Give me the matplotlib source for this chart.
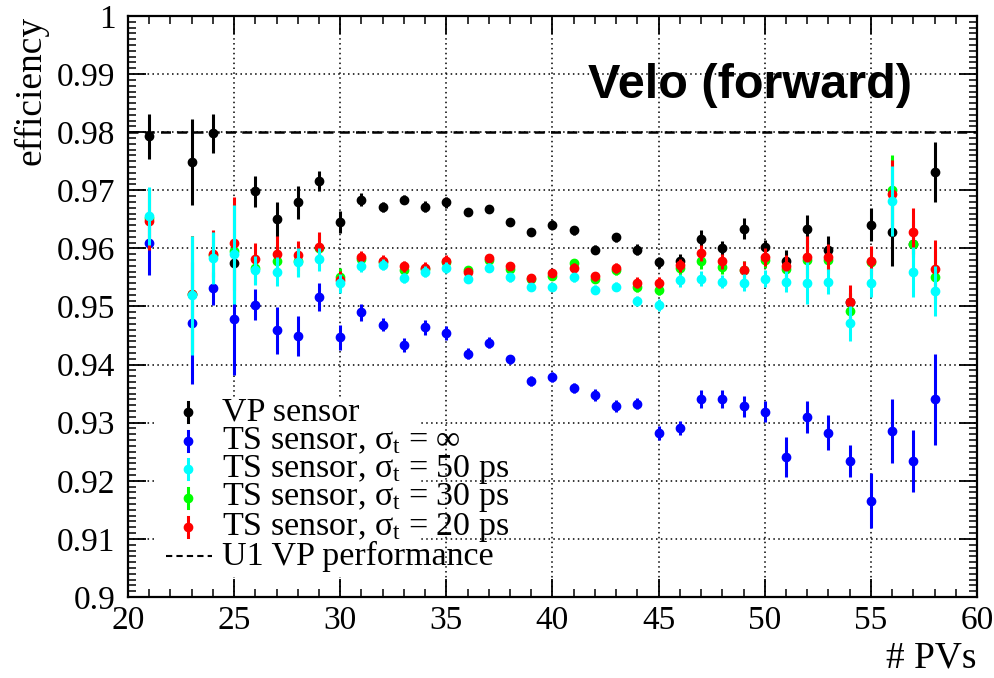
import matplotlib
matplotlib.use("Agg")
import matplotlib.pyplot as plt
from matplotlib.patches import Rectangle
from matplotlib.ticker import MultipleLocator, FormatStrFormatter

plt.rcParams['font.family'] = ['Liberation Serif', 'DejaVu Serif']
plt.rcParams['mathtext.fontset'] = 'custom'
plt.rcParams['mathtext.rm'] = 'Liberation Serif'
plt.rcParams['mathtext.it'] = 'Liberation Serif'
plt.rcParams['mathtext.fallback'] = 'stix'

n_pvs = [21, 23, 24, 25, 26, 27, 28, 29, 30, 31, 32, 33, 34, 35, 36, 37, 38, 39, 40,
         41, 42, 43, 44, 45, 46, 47, 48, 49, 50, 51, 52, 53, 54, 55, 56, 57, 58]

vp = [0.9793, 0.9748, 0.9798, 0.9574, 0.9698, 0.9650, 0.9679, 0.9716, 0.9645, 0.9684,
      0.9671, 0.9684, 0.9672, 0.9679, 0.9662, 0.9667, 0.9645, 0.9628, 0.9641, 0.9631,
      0.9598, 0.9619, 0.9598, 0.9576, 0.9579, 0.9617, 0.9600, 0.9634, 0.9602, 0.9579,
      0.9633, 0.9597, 0.9508, 0.9641, 0.9629, 0.9607, 0.9731]
vp_err = [0.0039, 0.0074, 0.0034, 0.0008, 0.0026, 0.0030, 0.0028, 0.0017, 0.0019, 0.0011,
          0.0009, 0.0008, 0.0009, 0.0009, 0.0006, 0.0006, 0.0007, 0.0007, 0.0008, 0.0008,
          0.0008, 0.0008, 0.0009, 0.0010, 0.0012, 0.0015, 0.0012, 0.0018, 0.0013, 0.0018,
          0.0025, 0.0025, 0.0015, 0.0028, 0.0060, 0.0016, 0.0052]

ts_inf = [0.9609, 0.9472, 0.9531, 0.9478, 0.9503, 0.9459, 0.9449, 0.9516, 0.9447, 0.9490,
          0.9469, 0.9434, 0.9464, 0.9455, 0.9419, 0.9438, 0.9409, 0.9372, 0.9379, 0.9360,
          0.9348, 0.9329, 0.9333, 0.9283, 0.9291, 0.9341, 0.9341, 0.9328, 0.9319, 0.9241,
          0.9310, 0.9283, 0.9234, 0.9166, 0.9286, 0.9234, 0.9340]
ts_inf_err = [0.0055, 0.0105, 0.0028, 0.0096, 0.0027, 0.0040, 0.0035, 0.0024, 0.0022, 0.0015,
              0.0012, 0.0012, 0.0013, 0.0012, 0.0009, 0.0009, 0.0008, 0.0008, 0.0009, 0.0009,
              0.0010, 0.0010, 0.0010, 0.0012, 0.0012, 0.0015, 0.0015, 0.0018, 0.0018, 0.0034,
              0.0027, 0.0030, 0.0028, 0.0047, 0.0055, 0.0054, 0.0078]

ts_50 = [0.9655, 0.9519, 0.9584, 0.9590, 0.9562, 0.9560, 0.9576, 0.9581, 0.9540, 0.9569,
         0.9572, 0.9549, 0.9560, 0.9567, 0.9547, 0.9567, 0.9550, 0.9533, 0.9534, 0.9550,
         0.9529, 0.9534, 0.9509, 0.9503, 0.9545, 0.9548, 0.9543, 0.9541, 0.9548, 0.9543,
         0.9540, 0.9543, 0.9471, 0.9541, 0.9681, 0.9560, 0.9526]
ts_50_err = [0.0050, 0.0102, 0.0045, 0.0085, 0.0025, 0.0025, 0.0025, 0.0020, 0.0016, 0.0010,
             0.0009, 0.0009, 0.0009, 0.0009, 0.0007, 0.0007, 0.0007, 0.0007, 0.0007, 0.0007,
             0.0008, 0.0008, 0.0009, 0.0010, 0.0011, 0.0013, 0.0012, 0.0015, 0.0014, 0.0018,
             0.0036, 0.0022, 0.0030, 0.0025, 0.0060, 0.0043, 0.0043]

ts_30 = [0.9652, 0.9522, 0.9588, 0.9595, 0.9566, 0.9578, 0.9578, 0.9600, 0.9550, 0.9582,
         0.9577, 0.9563, 0.9565, 0.9577, 0.9562, 0.9580, 0.9565, 0.9547, 0.9553, 0.9574,
         0.9548, 0.9563, 0.9534, 0.9529, 0.9566, 0.9578, 0.9568, 0.9563, 0.9580, 0.9565,
         0.9580, 0.9580, 0.9493, 0.9576, 0.9701, 0.9607, 0.9550]
ts_30_err = [0.0050, 0.0100, 0.0042, 0.0082, 0.0027, 0.0028, 0.0025, 0.0023, 0.0016, 0.0010,
             0.0009, 0.0009, 0.0009, 0.0009, 0.0007, 0.0007, 0.0007, 0.0007, 0.0007, 0.0008,
             0.0008, 0.0008, 0.0009, 0.0010, 0.0011, 0.0014, 0.0012, 0.0016, 0.0014, 0.0019,
             0.0035, 0.0022, 0.0030, 0.0025, 0.0060, 0.0042, 0.0045]

ts_20 = [0.9648, 0.9522, 0.9591, 0.9609, 0.9582, 0.9591, 0.9588, 0.9603, 0.9545, 0.9585,
         0.9579, 0.9569, 0.9567, 0.9579, 0.9559, 0.9583, 0.9569, 0.9549, 0.9557, 0.9566,
         0.9552, 0.9566, 0.9541, 0.9541, 0.9571, 0.9592, 0.9578, 0.9562, 0.9585, 0.9569,
         0.9586, 0.9585, 0.9507, 0.9579, 0.9693, 0.9628, 0.9564]
ts_20_err = [0.0050, 0.0100, 0.0040, 0.0080, 0.0028, 0.0030, 0.0025, 0.0025, 0.0016, 0.0010,
             0.0009, 0.0009, 0.0009, 0.0009, 0.0007, 0.0007, 0.0007, 0.0007, 0.0007, 0.0008,
             0.0008, 0.0008, 0.0009, 0.0010, 0.0011, 0.0014, 0.0013, 0.0016, 0.0015, 0.0020,
             0.0035, 0.0022, 0.0030, 0.0025, 0.0060, 0.0042, 0.0050]

u1_performance = 0.98

series = [
    ("VP sensor", vp, vp_err, "black"),
    (r"TS sensor, $\sigma_{t}$ = $\infty$", ts_inf, ts_inf_err, "#0000ff"),
    (r"TS sensor, $\sigma_{t}$ = 50 ps", ts_50, ts_50_err, "#00ffff"),
    (r"TS sensor, $\sigma_{t}$ = 30 ps", ts_30, ts_30_err, "#00ff00"),
    (r"TS sensor, $\sigma_{t}$ = 20 ps", ts_20, ts_20_err, "#ff0000"),
]
draw_order = [0, 1, 3, 4, 2]

fig = plt.figure(figsize=(9.95, 6.78), dpi=100)
ax = fig.add_axes([0.1286, 0.1195, 0.8533, 0.8569])

ax.set_xlim(20, 60)
ax.set_ylim(0.9, 1.0)

ax.grid(True, which='major', color='black', linestyle=(0, (1, 2.2)), linewidth=1.1)
ax.axhline(u1_performance, color='black', linestyle=(0, (4, 2.5)), linewidth=1.8, zorder=2)

for i in draw_order:
    label, vals, errs, col = series[i]
    ax.errorbar(n_pvs, vals, yerr=errs, fmt='o', color=col, ecolor=col,
                markersize=6, elinewidth=2.2, capsize=0, zorder=3 + draw_order.index(i))

ax.xaxis.set_major_locator(MultipleLocator(5))
ax.xaxis.set_minor_locator(MultipleLocator(1))
ax.yaxis.set_major_locator(MultipleLocator(0.01))
ax.yaxis.set_minor_locator(MultipleLocator(0.001))
ax.yaxis.set_major_formatter(FormatStrFormatter('%g'))
ax.tick_params(which='both', direction='in', top=True, right=True, colors='black')
ax.tick_params(which='major', length=13, width=1.3, labelsize=24)
ax.tick_params(axis='x', which='major', pad=6)
ax.tick_params(axis='y', which='major', pad=9)
ax.tick_params(which='minor', length=6, width=1.1)
for sp in ax.spines.values():
    sp.set_linewidth(1.6)

ax.set_ylabel("efficiency", fontsize=27, loc='top', labelpad=6)
ax.set_xlabel("# PVs", fontsize=27, loc='right', labelpad=4)

# hand-built legend, ROOT style
to_ax = ax.transAxes.inverted()
def px(xp, yp):
    return to_ax.transform(fig.transFigure.transform((xp / 995, 1 - yp / 678)))

tlx, tly = px(912, 86)
ax.text(tlx, tly, "Velo (forward)", transform=ax.transAxes, ha='right', va='center',
        fontsize=35, fontweight='bold', family='Liberation Sans', zorder=10)

x0, y0 = px(155, 398)
x1, y1 = px(420, 577)
ax.add_patch(Rectangle((x0, y1), x1 - x0, y0 - y1, transform=ax.transAxes,
                       facecolor='white', edgecolor='none', zorder=8))

row_y = [412, 441, 469, 498, 527, 556]
mx, _ = px(188, 0)
tx, _ = px(222, 0)
for k, (label, vals, errs, col) in enumerate(series):
    _, yk = px(0, row_y[k])
    _, ya = px(0, row_y[k] - 10)
    _, yb = px(0, row_y[k] + 10)
    ax.plot([mx, mx], [yb, ya], color=col, linewidth=2.2, transform=ax.transAxes, zorder=9)
    ax.plot([mx], [yk], 'o', color=col, markersize=6, transform=ax.transAxes, zorder=9)
    ax.text(tx, yk, label, transform=ax.transAxes, fontsize=24.5, va='center', ha='left', zorder=10)

_, yk = px(0, row_y[5])
lx0, _ = px(166, 0)
lx1, _ = px(212, 0)
ax.plot([lx0, lx1], [yk, yk], color='black', linestyle=(0, (3, 2)), linewidth=1.5,
        transform=ax.transAxes, zorder=9)
ax.text(tx, yk, "U1 VP performance", transform=ax.transAxes, fontsize=24.5,
        va='center', ha='left', zorder=10)

fig.savefig("out.png", dpi=100)
